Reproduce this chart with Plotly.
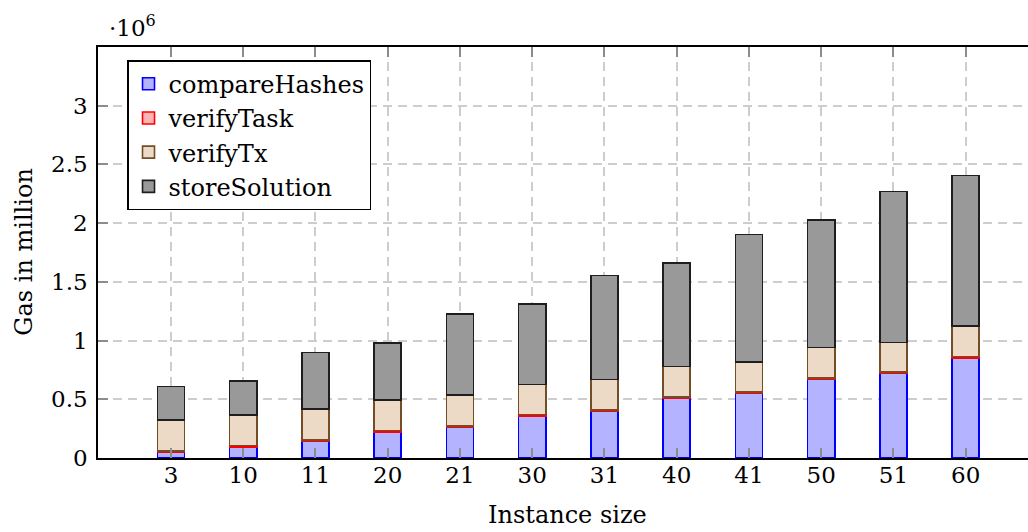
import plotly.graph_objects as go

categories = ["3", "10", "11", "20", "21", "30", "31", "40", "41", "50", "51", "60"]
compare_hashes = [50000, 95000, 143000, 220000, 262000, 357000, 398000, 507000, 548000, 670000, 718000, 854000]
verify_task = [10000, 12000, 12000, 15000, 13000, 13000, 12000, 13000, 13000, 12000, 12000, 12000]
verify_tx = [265000, 260000, 260000, 260000, 260000, 257000, 257000, 258000, 257000, 258000, 255000, 256000]
store_solution = [283000, 290000, 482000, 485000, 690000, 686000, 886000, 883000, 1087000, 1087000, 1283000, 1283000]

y_tickvals = [0, 500000, 1000000, 1500000, 2000000, 2500000, 3000000]
y_ticktext = ["0", "0.5", "1", "1.5", "2", "2.5", "3"]

FONT = "DejaVu Serif"
TICK_FS = 23
TEXT_FS = 24
LEG_FS = 24

series = [
    ("compareHashes", compare_hashes, "rgb(179,179,255)", "rgb(0,0,255)"),
    ("verifyTask", verify_task, "rgb(255,179,179)", "rgb(255,0,0)"),
    ("verifyTx", verify_tx, "rgb(236,217,198)", "rgb(115,77,38)"),
    ("storeSolution", store_solution, "rgb(153,153,153)", "rgb(30,30,30)"),
]

fig = go.Figure()
for name, vals, fill, line in series:
    fig.add_trace(go.Bar(
        x=categories, y=vals, name=name, width=0.375,
        marker=dict(color=fill, line=dict(color=line, width=1.6)),
    ))

fig.update_layout(
    barmode="stack",
    width=1028, height=532,
    margin=dict(l=98, r=0, t=47, b=74),
    paper_bgcolor="white", plot_bgcolor="white",
    font=dict(family=FONT, size=TEXT_FS, color="black"),
    showlegend=True,
    legend=dict(
        x=0.0312, y=0.968, xanchor="left", yanchor="top",
        bgcolor="white", bordercolor="black", borderwidth=1.5,
        font=dict(family=FONT, size=LEG_FS),
        traceorder="normal", itemwidth=30,
    ),
)

fig.update_xaxes(
    type="category", range=[-1.01, 11.862],
    showline=True, linecolor="black", linewidth=1.5, mirror="ticks",
    ticks="inside", ticklen=10, tickcolor="rgb(140,140,140)", tickwidth=1.5,
    showgrid=True, gridcolor="rgb(205,205,205)", griddash="9px,6px", gridwidth=1.5,
    tickfont=dict(family=FONT, size=TICK_FS), zeroline=False, ticklabelstandoff=-4,
)
fig.update_yaxes(
    range=[0, 3500000], tickvals=y_tickvals, ticktext=y_ticktext,
    showline=True, linecolor="black", linewidth=1.5, mirror=False,
    ticks="inside", ticklen=10, tickcolor="rgb(140,140,140)", tickwidth=1.5,
    showgrid=True, gridcolor="rgb(205,205,205)", griddash="9px,6px", gridwidth=1.5,
    tickfont=dict(family=FONT, size=TICK_FS), zeroline=False, ticklabelstandoff=4,
)

fig.add_annotation(text="·10<sup>6</sup>", xref="paper", yref="paper", x=0.0097, y=1.051,
                   xanchor="left", yanchor="middle", showarrow=False,
                   font=dict(family=FONT, size=TICK_FS))
fig.add_annotation(text="Gas in million", xref="paper", yref="paper", x=-0.08, y=0.501,
                   xanchor="center", yanchor="middle", textangle=-90, showarrow=False,
                   font=dict(family=FONT, size=TEXT_FS))
fig.add_annotation(text="Instance size", xref="paper", yref="paper", x=0.505, y=-0.1387,
                   xanchor="center", yanchor="middle", showarrow=False,
                   font=dict(family=FONT, size=TEXT_FS))

fig.write_html("out.html", config={"displayModeBar": False},
               post_script="document.body.style.margin='0';")
